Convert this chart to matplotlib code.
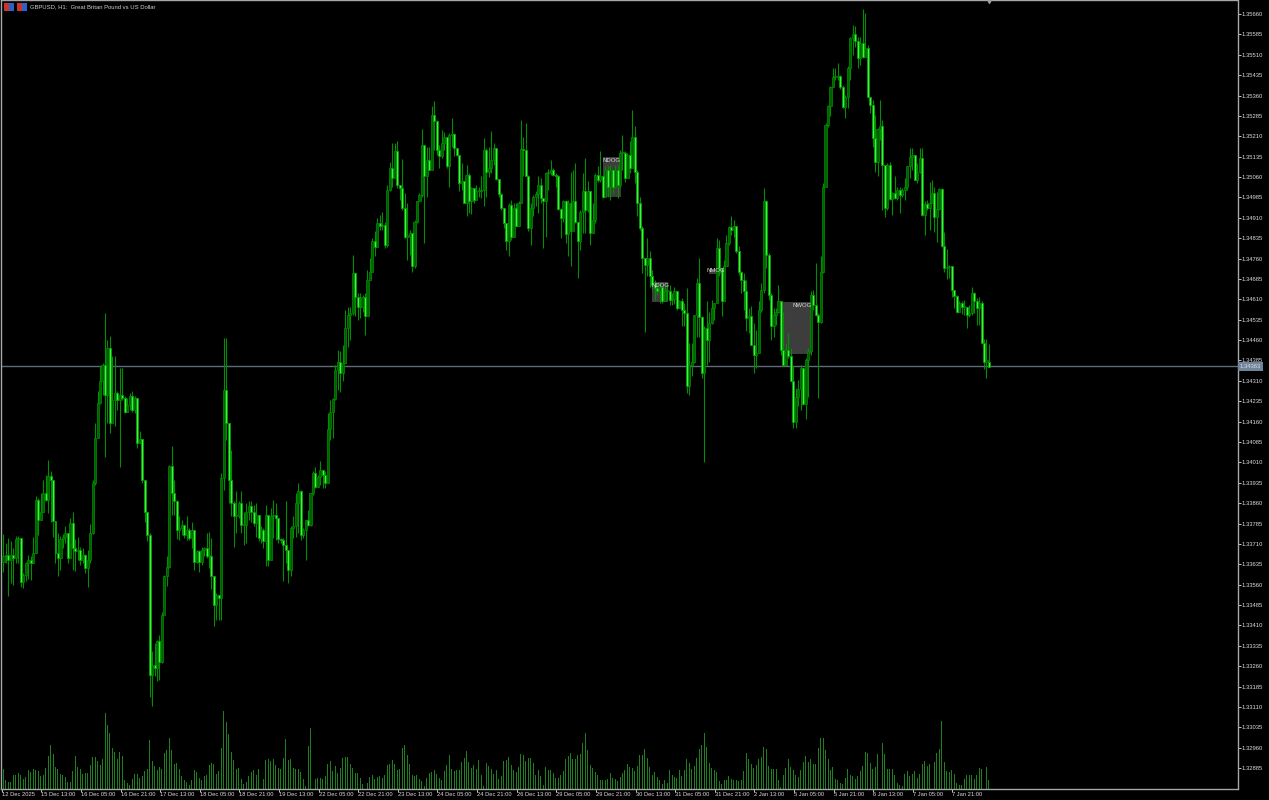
import numpy as np
import matplotlib
matplotlib.use('Agg')
import matplotlib.pyplot as plt
from matplotlib.patches import Rectangle

plt.rcParams['font.family'] = ['Liberation Sans', 'DejaVu Sans']

# H1 bars, prices in points above 1.30000
closes = [3664,3670,3651,3670,3658,3727,3731,3568,3596,3639,3651,3641,3676,3872,3799,3829,3897,3872,3961,3946,
 3796,3676,3658,3727,3735,3750,3658,3786,3694,3682,3688,3651,3670,3621,3651,3750,3934,4099,4228,4308,
 4369,4259,4431,4154,4240,4265,4240,4259,4246,4197,4222,4253,4204,4246,4081,4096,3946,3829,3743,3228,
 3265,3253,3351,3277,3449,3590,3624,3995,3897,3866,3762,3768,3780,3743,3762,3731,3762,3645,3682,3645,
 3688,3694,3664,3664,3590,3486,3522,3510,3952,4277,4154,3946,3860,3811,3811,3860,3780,3780,3829,3848,
 3829,3786,3817,3731,3762,3719,3817,3651,3811,3817,3805,3727,3725,3707,3688,3615,3768,3774,3860,3903,
 3743,3762,3799,3780,3897,3970,3920,3957,3982,3963,3935,4132,4197,4242,4350,
 4381,4338,4375,4504,4553,4559,4706,4620,4583,4583,4620,4547,4682,4712,4823,4804,4890,4878,4884,4810,
 5013,5093,5056,5154,5031,5019,4945,4841,4841,4853,4731,4896,4970,4994,5179,5062,5123,5086,5289,5268,
 5160,5139,5185,5209,5099,5215,5218,5166,5142,5037,5044,4966,5068,4970,5019,4976,5007,5007,5013,5160,
 5080,5093,5123,5166,5052,4998,4945,4890,4826,4958,4841,4945,4880,4964,5163,5160,5062,4872,4945,4988,
 4998,5031,4982,4970,5074,5074,5086,5068,5064,4942,4909,4970,4851,4964,4860,4972,4896,4823,4933,5007,
 4937,5007,4853,4902,5068,5050,5064,4988,5086,5025,5086,5025,5086,5031,5148,5148,5056,5142,5093,5209,
 5080,4964,4872,4761,4737,4761,4694,4663,4651,4639,4657,4602,4639,4639,4608,4611,4639,4578,4602,4571,
 4559,4292,4369,4378,4553,4670,4544,4338,4504,4459,4522,4578,4596,4798,4725,4602,4733,4817,4876,4866,
 4878,4786,4709,4682,4639,4541,4547,4443,4406,4412,4571,4645,4970,4774,4627,4513,4553,4565,4602,4424,
 4369,4424,4400,4308,4160,4252,4279,4357,4225,4387,4418,4627,4590,4553,4525,4709,5025,5252,5322,5393,
 5427,5427,5432,5390,5317,5356,5460,5571,5586,5559,5497,5552,5503,5534,5356,5325,5203,5117,5236,5248,
 5105,4945,5105,4979,5003,4982,5013,4994,5013,5022,5099,5135,5141,5049,5080,5129,4921,4961,4945,4964,
 5000,4914,4941,5015,4806,4724,4730,4733,4645,4622,4565,4598,4581,4583,4553,4559,4632,4602,4577,4598,
 4451,4381,4381,4362]
highs = [3747,3713,3731,3719,3694,3740,3740,3700,3602,3645,3670,3664,3737,3885,3878,3897,3946,3964,4017,3977,
 3946,3796,3750,3740,3747,3774,3731,3805,3829,3727,3737,3700,3694,3673,3688,3784,3946,4154,4271,4363,
 4375,4559,4461,4476,4400,4400,4271,4357,4357,4253,4246,4265,4271,4253,4246,4124,4096,3946,3829,3749,
 3314,3347,3357,3375,3461,3596,3664,4001,4069,3946,3872,3811,3799,3780,3811,3768,3792,3762,3688,3688,
 3700,3700,3749,3755,3731,3590,3529,3522,3970,4466,4466,4154,4056,3866,3903,3866,3903,3829,3860,3866,
 3866,3854,3860,3799,3774,3768,3854,3817,3842,3872,3860,3805,3731,3731,3866,3688,3774,3811,3899,3934,
 3909,3768,3799,3836,3899,3980,3994,3963,4016,3980,3980,4190,4240,4246,4370,
 4424,4418,4442,4571,4583,4583,4774,4706,4632,4632,4627,4632,4719,4761,4835,4860,4909,4921,4933,4896,
 5031,5117,5185,5185,5191,5031,5126,5000,4964,4866,4847,4902,4970,5000,5236,5170,5170,5170,5320,5340,
 5271,5179,5234,5224,5209,5221,5277,5221,5166,5142,5111,5044,5105,5074,5025,5013,5031,5025,5062,5203,
 5166,5170,5228,5187,5166,5052,5000,4945,4890,4964,4976,4964,4964,4970,5271,5209,5258,5068,4964,4994,
 5007,5062,5056,4982,5080,5089,5121,5093,5074,5068,4945,4976,4976,4976,5077,5087,5111,4896,4939,5074,
 5129,5044,5007,4964,5074,5099,5154,5068,5099,5099,5105,5086,5105,5105,5160,5215,5154,5148,5191,5307,
 5246,5087,4988,4878,4761,4835,4786,4719,4682,4670,4670,4660,4657,4670,4664,4635,4655,4639,4608,4614,
 4596,4651,4449,4449,4553,4688,4762,4547,4510,4602,4565,4608,4598,4835,4829,4725,4756,4848,4878,4915,
 4903,4878,4805,4713,4706,4682,4578,4584,4522,4498,4602,4670,5019,4976,4780,4633,4578,4578,4664,4565,
 4565,4449,4486,4430,4363,4283,4314,4369,4357,4394,4430,4639,4645,4743,4559,4768,5038,5258,5325,5395,
 5460,5460,5481,5436,5399,5362,5467,5577,5620,5614,5577,5577,5678,5665,5546,5356,5344,5289,5240,5344,
 5270,5092,5111,5117,5006,5062,5025,5025,5019,5056,5101,5166,5166,5141,5111,5166,5166,4970,4976,5043,
 5049,5025,5006,5019,5019,4859,4794,4736,4706,4645,4626,4602,4602,4608,4577,4589,4654,4638,4614,4617,
 4602,4463,4463,4446]
lows = [3608,3639,3519,3565,3559,3639,3639,3551,3547,3572,3580,3578,3639,3676,3743,3799,3829,3866,3823,3792,
 3737,3639,3592,3615,3694,3713,3639,3694,3615,3612,3651,3633,3639,3602,3551,3639,3747,3927,4105,4226,
 4259,4029,4154,4118,4160,4142,4204,3992,4240,4191,4197,4204,4197,4191,4062,4081,3934,3792,3719,3148,
 3112,3222,3204,3210,3271,3480,3556,3621,3817,3817,3727,3725,3743,3731,3725,3725,3694,3615,3639,3608,
 3633,3664,3657,3621,3543,3406,3430,3430,3430,3909,4093,3860,3811,3700,3749,3805,3749,3707,3713,3799,
 3792,3774,3737,3719,3713,3694,3627,3627,3719,3731,3725,3713,3713,3572,3639,3565,3593,3731,3737,3749,
 3725,3731,3651,3774,3774,3891,3914,3920,3927,3914,3914,3933,4092,4098,4240,
 4277,4270,4308,4375,4436,4461,4553,4547,4535,4540,4565,4479,4608,4682,4712,4768,4817,4866,4866,4798,
 4804,5007,5025,5062,5019,4976,4939,4835,4755,4774,4712,4725,4890,4970,4988,4819,4988,5086,5148,5160,
 5142,5093,5129,5160,5093,5023,5172,5136,5136,5007,5013,4966,4915,4927,4925,4964,4982,4988,4982,4952,
 4988,5060,5074,5105,5050,4988,4939,4872,4792,4771,4829,4841,4878,4878,4964,5062,5062,4860,4811,4915,
 4952,4927,4964,4798,4841,5013,5068,5062,5025,4939,4835,4896,4816,4768,4733,4896,4890,4688,4792,4853,
 4853,4933,4811,4853,4890,5043,5043,4982,5019,4988,4976,5000,5019,4982,5025,5086,5040,5086,5074,5142,
 5037,4915,4866,4706,4491,4694,4657,4645,4608,4627,4596,4596,4627,4608,4590,4590,4594,4571,4578,4510,
 4510,4265,4259,4326,4375,4473,4473,4320,4013,4369,4381,4520,4535,4596,4694,4547,4602,4731,4811,4848,
 4841,4780,4700,4633,4571,4492,4486,4443,4338,4357,4449,4565,4633,4725,4608,4461,4473,4516,4559,4406,
 4363,4369,4394,4308,4136,4136,4216,4203,4222,4169,4252,4406,4571,4547,4246,4522,4706,5025,5245,5285,
 5390,5418,5418,5383,5313,5276,5313,5418,5510,5540,5460,5473,5497,5503,5356,5295,5172,5080,5064,5197,
 4939,4914,4939,4976,4920,4978,4976,4927,4988,4976,5013,5056,5086,5049,5037,5076,4917,4847,4939,4865,
 4964,4859,4822,4939,4804,4712,4684,4688,4620,4577,4559,4577,4556,4553,4503,4546,4553,4559,4516,4516,
 4448,4352,4319,4360]

# tick volume of each bar, relative units
volumes = [58,25,20,20,40,40,48,40,30,35,55,50,60,55,52,38,40,62,97,130,
 103,65,60,45,40,35,20,20,52,98,65,60,45,48,48,72,95,95,83,70,
 90,228,192,168,123,110,90,110,97,25,17,12,30,45,45,33,38,52,60,146,
 82,68,57,65,58,108,115,152,115,75,78,58,38,25,20,10,25,55,50,32,
 25,38,42,72,78,75,45,52,122,233,200,165,110,85,58,62,30,15,20,38,
 50,55,42,60,30,30,85,88,82,90,70,62,60,92,150,85,88,62,60,58,
 50,28,7,127,183,138,28,32,33,30,37,75,82,52,67,48,62,93,95,95,
 75,62,48,48,33,15,50,18,35,42,30,35,38,32,42,70,75,85,75,55,
 58,122,130,100,75,42,38,42,30,22,8,32,47,50,55,45,32,25,52,70,
 100,58,52,57,57,80,93,112,80,62,72,58,85,42,8,78,68,58,45,55,
 30,38,82,87,95,70,55,50,65,103,100,83,93,93,78,42,55,38,10,65,
 57,57,47,33,33,40,53,88,98,108,90,88,102,105,137,166,115,70,63,50,
 42,27,27,27,28,48,33,28,22,35,48,55,75,65,63,52,67,
 100,100,118,93,65,40,50,35,25,15,27,18,55,42,35,33,57,38,57,90,
 77,58,68,93,118,130,168,125,78,63,55,50,22,15,25,27,38,30,25,27,
 22,27,52,108,90,75,63,70,88,95,125,120,67,58,58,58,25,5,42,62,
 90,65,55,42,35,55,80,97,80,90,75,75,122,153,153,115,90,55,65,30,
 27,18,15,33,60,40,37,30,37,53,67,110,108,77,58,65,103,130,138,103,
 60,60,60,42,17,10,8,45,52,37,45,52,33,45,75,82,68,75,60,80,
 108,118,202,80,52,50,57,45,18,10,10,30,42,42,42,30,42,62,60,85,
 65,27]

time_labels = ['12 Dec 2025','15 Dec 13:00','16 Dec 05:00','16 Dec 21:00','17 Dec 13:00','18 Dec 05:00',
 '18 Dec 21:00','19 Dec 13:00','22 Dec 05:00','22 Dec 21:00','23 Dec 13:00','24 Dec 05:00','24 Dec 21:00',
 '26 Dec 13:00','29 Dec 05:00','29 Dec 21:00','30 Dec 13:00','31 Dec 05:00','31 Dec 21:00','2 Jan 13:00',
 '5 Jan 05:00','5 Jan 21:00','6 Jan 13:00','7 Jan 05:00','7 Jan 21:00']

# opening gap boxes: label, first bar, last bar, top, bottom (points)
gap_labels = ['NDOG','NDOG','NMOG','NWOG']
gap_first = [242,262,285,314]
gap_last = [249.3,268.5,290.7,326.5]
gap_top = [5134,4674,4722,4600]
gap_bottom = [4987,4600,4703,4409]

current_price = 1.34363
top_tick = 1.35660
tick_step = 0.00075
n_ticks = 38


def to_price(points):
    return 1.3 + np.array(points) / 1e5


c = to_price(closes)
h = to_price(highs)
l = to_price(lows)
o = np.r_[c[0] - 0.0002, c[:-1]]
x = np.arange(len(c))

WIDTH, HEIGHT = 1269, 800
fig = plt.figure(figsize=(WIDTH / 100, HEIGHT / 100), dpi=100, facecolor='black')
ax = fig.add_axes([1 / WIDTH, 11.5 / HEIGHT, 1236.5 / WIDTH, 788.5 / HEIGHT], facecolor='black')

bar_px = 2.476
ax.set_xlim(-2.5 / bar_px, 1234 / bar_px)
ax.set_ylim(to_price(2809.8), to_price(5711.5))

# wolumen na osobnej osi
ax2 = ax.twinx()
ax2.set_ylim(0, 2365.5)
ax2.set_yticks([])
ax2.bar(np.arange(len(volumes)), volumes, width=0.4, color='#1d7f1d', linewidth=0)

ax.set_zorder(ax2.get_zorder() + 1)
ax.patch.set_visible(False)
ax2.patch.set_facecolor('black')
ax2.patch.set_visible(True)

for k in range(len(gap_labels)):
    ax.add_patch(Rectangle((gap_first[k], to_price(gap_bottom[k])), gap_last[k] - gap_first[k],
                           to_price(gap_top[k]) - to_price(gap_bottom[k]),
                           facecolor='#3d3d3d', edgecolor='none', zorder=1))

ax.axhline(current_price, color='#5d6b7a', linewidth=1, zorder=2)

# knoty i korpusy
ax.vlines(x, l, h, color='#008f00', linewidth=0.8, zorder=3)
up = c >= o
body_bottom = np.minimum(o, c)
body_height = np.maximum(np.abs(c - o), 0.00004)
ax.bar(x[up], body_height[up], bottom=body_bottom[up], width=0.85, color='#005f00',
       edgecolor='#008f00', linewidth=0.5, zorder=4)
ax.bar(x[~up], body_height[~up], bottom=body_bottom[~up], width=0.8, color='#45f045',
       edgecolor='#00a000', linewidth=0.6, zorder=5)

for k in range(len(gap_labels)):
    if k == 3:
        label_x, label_ha = gap_last[k], 'right'
    else:
        label_x, label_ha = (gap_first[k] + gap_last[k]) / 2, 'center'
    label_drop = 0.00007 if k == 2 else 0.00012
    ax.text(label_x, to_price(gap_top[k]) - label_drop, gap_labels[k], color='#d8d8d8', fontsize=4.3,
            ha=label_ha, va='center', zorder=6)

# osie
for name, spine in ax.spines.items():
    spine.set_color('#a6a6a6')
    spine.set_linewidth(1)
for spine in ax2.spines.values():
    spine.set_visible(False)

y_ticks = top_tick - tick_step * np.arange(n_ticks)
ax.yaxis.tick_right()
ax.set_yticks(y_ticks)
ax.set_yticklabels([f'{v:.5f}' for v in y_ticks])
ax.tick_params(axis='y', colors='#c8c8c8', labelsize=4.2, length=2.2, width=0.7, pad=0.6, labelcolor='#dcdcdc')

x_ticks = -0.73 + 16 * np.arange(len(time_labels))
ax.set_xticks(x_ticks)
ax.set_xticklabels(time_labels, ha='left')
ax.tick_params(axis='x', colors='#c8c8c8', labelsize=4.15, length=2.2, width=0.7, pad=0.6, labelcolor='#dcdcdc')

ax.annotate(f'{current_price:.5f}', xy=(1, current_price), xycoords=('axes fraction', 'data'),
            xytext=(1.6, 0), textcoords='offset points', color='#d5dde5', fontsize=4.2, va='center', ha='left',
            bbox=dict(boxstyle='square,pad=0.3', facecolor='#70849a', edgecolor='none'), annotation_clip=False, zorder=8)

# marker na górze i nagłówek
ax.plot([len(c) - 1], [1], marker='v', markersize=4, color='#9aa0a8', clip_on=False,
        transform=ax.get_xaxis_transform(), zorder=8)

fig.text(30 / WIDTH, 1 - 7 / HEIGHT, 'GBPUSD, H1:  Great Britan Pound vs US Dollar', color='#d0d0d0',
         fontsize=4.25, va='center', ha='left')
for left in (4, 17):
    fig.add_artist(Rectangle((left / WIDTH, 1 - 11 / HEIGHT), 5 / WIDTH, 8 / HEIGHT, facecolor='#c8342c',
                             edgecolor='none', transform=fig.transFigure))
    fig.add_artist(Rectangle(((left + 5) / WIDTH, 1 - 11 / HEIGHT), 5 / WIDTH, 8 / HEIGHT, facecolor='#2c62c8',
                             edgecolor='none', transform=fig.transFigure))

fig.savefig('out.png', dpi=100, facecolor='black')
